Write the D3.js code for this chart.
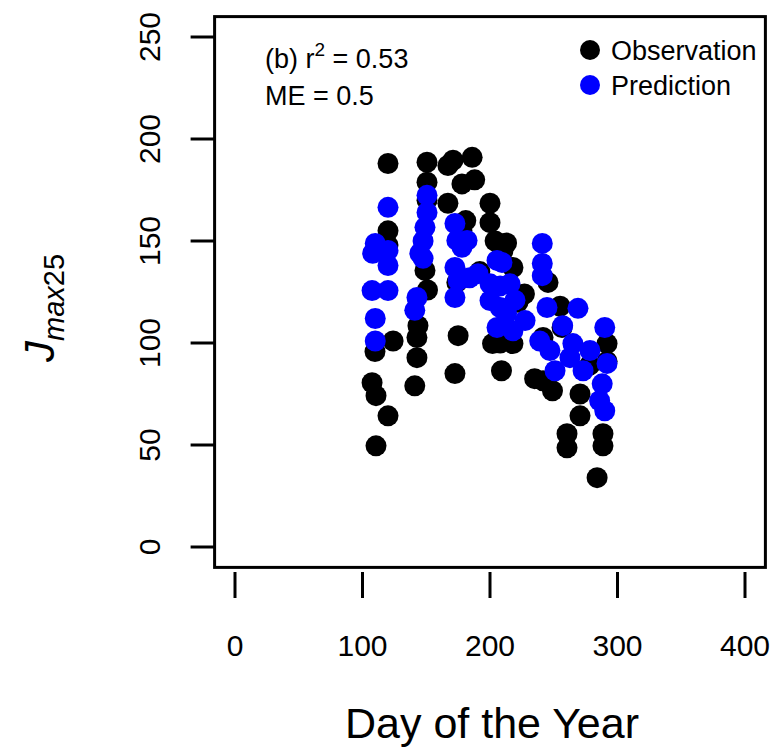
<!DOCTYPE html>
<html><head><meta charset="utf-8">
<script src="https://cdn.jsdelivr.net/npm/d3@7"></script>
<style>body{margin:0;background:#fff}svg{display:block}text{font-family:"Liberation Sans",Arial,sans-serif}</style>
</head><body>
<script>
const obsDay = [107.5,110.6,110.6,120,109.8,124,120,120,120,143.5,142.7,142.7,141,150.6,150.6,150.6,149,151,167,171,186,178,188,167,181,174,175,172.5,178,200,200,204,213,208,218,210,202,208,209,218,227,235,241.6,245.5,255,256.5,241.6,249,270.6,270.6,260.4,260.4,288.6,288.6,284,291.8,291.8,278,192,222];
const obsVal = [80.5,74.2,49.6,64.3,95.8,101,188,155,148,108.5,102.7,92.8,79,188.6,178.8,170,135.6,126,187,189.6,191,178,180,168.5,160,129.7,103.6,85,155,168.5,159,150,149,141,137,145,99.7,100,86.4,99.7,124,82.5,102.7,129.7,118,107.6,81.5,76.6,75,64.3,55.5,48.6,55.5,49.6,34,99.7,91,89,135,120];
const predDay = [120,110,108,120,120,120,107.5,110,110,142.7,141,145,147.5,149,150.6,150.6,147.5,172.5,174,178,172.5,175,172.5,182,184,190.6,205.5,209.4,200,200,208,215.7,213,205.5,218,227.5,239,241,241,241,244.7,257,269,290,265,278.4,247,262.7,273,291.8,288,286,290,251,208,219.6];
const predVal = [166.5,148.8,144,145.4,138,125.7,125.7,112,101,122.3,116,144,150,156.7,172.4,164,141.5,158.6,150.3,146.9,137,130.6,122.3,150.3,132,134,140.5,139.5,129,120.8,117.4,129,114.4,107.6,106,111,101,148.8,139,133,117.4,108.5,117,107.6,99.7,96.3,96.3,92.8,86.4,90,80,71.7,66.8,86.4,128,121];
const xTicks = [0,100,200,300,400];
const yTicks = [0,50,100,150,200,250];

const W=784,H=750;
const svg=d3.select("body").append("svg").attr("width",W).attr("height",H);
const x=d3.scaleLinear().domain([-16,416]).range([214.6,765.4]);
const y=d3.scaleLinear().domain([-10,260]).range([567.4,16.6]);

const obs=obsDay.map((d,i)=>({d,v:obsVal[i]}));
const pred=predDay.map((d,i)=>({d,v:predVal[i]}));
svg.append("g").selectAll("circle").data(obs).join("circle")
  .attr("cx",p=>x(p.d)).attr("cy",p=>y(p.v)).attr("r",10.5).attr("fill","#000");
svg.append("g").selectAll("circle").data(pred).join("circle")
  .attr("cx",p=>x(p.d)).attr("cy",p=>y(p.v)).attr("r",10.5).attr("fill","#0000ff");

svg.append("rect").attr("x",x(-16)).attr("y",y(260)).attr("width",x(416)-x(-16)).attr("height",y(-10)-y(260))
  .attr("fill","none").attr("stroke","#000").attr("stroke-width",3);

const yAx=svg.append("g");
yAx.selectAll("line.t").data(yTicks).join("line").attr("class","t")
  .attr("x1",x(-16)-24).attr("x2",x(-16)).attr("y1",d=>y(d)).attr("y2",d=>y(d)).attr("stroke","#000").attr("stroke-width",3);
yAx.selectAll("text").data(yTicks).join("text")
  .attr("transform",d=>`translate(160,${y(d)}) rotate(-90)`).attr("text-anchor","middle")
  .attr("font-size",30).text(d=>d);

const xAx=svg.append("g");
xAx.selectAll("line").data(xTicks).join("line")
  .attr("x1",d=>x(d)).attr("x2",d=>x(d)).attr("y1",572).attr("y2",598).attr("stroke","#000").attr("stroke-width",3);
xAx.selectAll("text").data(xTicks).join("text")
  .attr("x",d=>x(d)).attr("y",656).attr("text-anchor","middle").attr("font-size",30).text(d=>d);

svg.append("text").attr("x",492).attr("y",738).attr("text-anchor","middle").attr("font-size",43).text("Day of the Year");
const yt=svg.append("text").attr("transform","translate(54,308) rotate(-90)").attr("text-anchor","middle");
yt.append("tspan").attr("font-size",42).attr("font-style","italic").text("J");
yt.append("tspan").attr("font-size",29).attr("font-style","italic").attr("dy",10).text("max");
yt.append("tspan").attr("font-size",29).text("25");

const t1=svg.append("text").attr("x",265).attr("y",68).attr("font-size",27);
t1.append("tspan").text("(b) r");
t1.append("tspan").attr("font-size",19).attr("dy",-12).text("2");
t1.append("tspan").attr("dy",12).text(" = 0.53");
svg.append("text").attr("x",265).attr("y",105).attr("font-size",27).text("ME = 0.5");

const leg=[{l:"Observation",c:"#000"},{l:"Prediction",c:"#0000ff"}];
leg.forEach((e,i)=>{
  svg.append("circle").attr("cx",590).attr("cy",50+i*35).attr("r",10).attr("fill",e.c);
  svg.append("text").attr("x",611).attr("y",60+i*35).attr("font-size",27).text(e.l);
});
</script>
</body></html>
